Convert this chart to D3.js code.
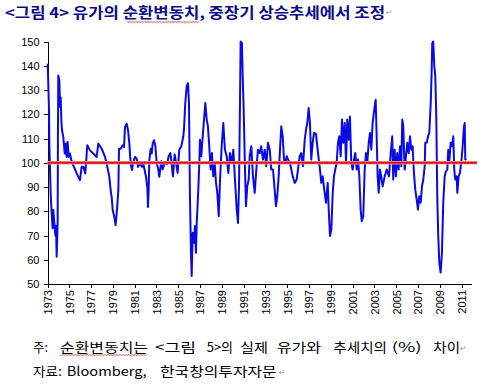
<!DOCTYPE html>
<html>
<head>
<meta charset="utf-8">
<script src="https://cdn.jsdelivr.net/npm/d3@7"></script>
<style>
  body { margin: 0; background: #fff; }
  svg { display: block; }
  .axis path, .axis line { stroke: #000; shape-rendering: crispEdges; }
  .axis text { font-family: "Liberation Sans", Arial, sans-serif; font-size: 11px; fill: #000; }
</style>
</head>
<body>
<div id="chart"></div>
<script>
// ========================================
// DATA
// ========================================

const years = [
    1973.02, 1973.14, 1973.17, 1973.23, 1973.29, 1973.38, 1973.47, 1973.53, 1973.63, 1973.72,
    1973.78, 1973.84, 1973.93, 1973.96, 1973.99, 1974.09, 1974.15, 1974.21, 1974.27, 1974.33,
    1974.45, 1974.58, 1974.67, 1974.76, 1974.85, 1974.94, 1975.06, 1975.22, 1975.43, 1975.68,
    1975.98, 1976.13, 1976.29, 1976.47, 1976.65, 1976.90, 1977.20, 1977.51, 1977.66, 1977.97,
    1978.28, 1978.49, 1978.67, 1978.83, 1978.89, 1978.98, 1979.13, 1979.25, 1979.35, 1979.44,
    1979.50, 1979.56, 1979.71, 1979.90, 1980.02, 1980.11, 1980.26, 1980.39, 1980.51, 1980.63,
    1980.75, 1980.87, 1981.03, 1981.18, 1981.30, 1981.49, 1981.67, 1981.79, 1981.91, 1982.04,
    1982.16, 1982.22, 1982.28, 1982.34, 1982.47, 1982.56, 1982.65, 1982.77, 1982.89, 1983.02,
    1983.14, 1983.26, 1983.44, 1983.57, 1983.75, 1983.96, 1984.12, 1984.27, 1984.36, 1984.51,
    1984.67, 1984.79, 1984.94, 1985.09, 1985.28, 1985.46, 1985.52, 1985.64, 1985.77, 1985.89,
    1985.98, 1986.07, 1986.17, 1986.23, 1986.32, 1986.44, 1986.53, 1986.62, 1986.69, 1986.81,
    1986.93, 1986.99, 1987.11, 1987.24, 1987.36, 1987.48, 1987.61, 1987.72, 1987.84, 1987.97,
    1988.09, 1988.21, 1988.34, 1988.46, 1988.58, 1988.71, 1988.83, 1988.98, 1989.13, 1989.28,
    1989.44, 1989.59, 1989.74, 1989.90, 1990.05, 1990.20, 1990.36, 1990.48, 1990.57, 1990.66,
    1990.72, 1990.84, 1990.91, 1991.00, 1991.12, 1991.21, 1991.33, 1991.46, 1991.55, 1991.70,
    1991.85, 1992.01, 1992.16, 1992.31, 1992.47, 1992.61, 1992.77, 1992.93, 1993.07, 1993.23,
    1993.39, 1993.53, 1993.69, 1993.84, 1993.96, 1994.08, 1994.21, 1994.33, 1994.45, 1994.58,
    1994.70, 1994.82, 1994.95, 1995.06, 1995.25, 1995.37, 1995.50, 1995.68, 1995.86, 1995.98,
    1996.14, 1996.28, 1996.44, 1996.60, 1996.72, 1996.84, 1996.96, 1997.08, 1997.20, 1997.33,
    1997.45, 1997.63, 1997.82, 1998.00, 1998.12, 1998.25, 1998.39, 1998.55, 1998.71, 1998.80,
    1998.92, 1999.04, 1999.17, 1999.28, 1999.40, 1999.53, 1999.65, 1999.77, 1999.90, 2000.02,
    2000.14, 2000.27, 2000.39, 2000.50, 2000.63, 2000.75, 2000.87, 2001.00, 2001.12, 2001.24,
    2001.37, 2001.49, 2001.61, 2001.73, 2001.83, 2001.97, 2002.10, 2002.22, 2002.34, 2002.47,
    2002.59, 2002.71, 2002.83, 2002.98, 2003.11, 2003.20, 2003.29, 2003.39, 2003.50, 2003.62,
    2003.75, 2003.94, 2004.12, 2004.33, 2004.49, 2004.63, 2004.72, 2004.85, 2004.97, 2005.09,
    2005.22, 2005.34, 2005.46, 2005.55, 2005.64, 2005.77, 2005.89, 2006.01, 2006.14, 2006.26,
    2006.38, 2006.50, 2006.62, 2006.74, 2006.87, 2006.99, 2007.11, 2007.24, 2007.36, 2007.48,
    2007.61, 2007.66, 2007.79, 2007.91, 2008.03, 2008.16, 2008.25, 2008.30, 2008.39, 2008.49,
    2008.58, 2008.67, 2008.76, 2008.85, 2008.95, 2009.07, 2009.19, 2009.31, 2009.44, 2009.56,
    2009.68, 2009.77, 2009.86, 2009.99, 2010.11, 2010.23, 2010.32, 2010.41, 2010.54, 2010.60,
    2010.72, 2010.84, 2010.96, 2011.09, 2011.21, 2011.28, 2011.33, 2011.42
];

const cycleValues = [
    140.8, 121.6, 107.4, 97.0, 87.5, 79.2, 73.0, 80.5, 75.0, 70.0,
    74.0, 61.2, 75.0, 113.4, 136.0, 134.0, 123.0, 127.0, 117.5, 113.4,
    110.6, 103.8, 107.9, 102.4, 108.6, 102.4, 103.8, 100.3, 98.3, 95.6,
    92.8, 98.3, 98.3, 95.6, 107.2, 105.1, 103.8, 102.4, 107.9, 105.8,
    102.4, 98.3, 94.2, 87.4, 85.9, 80.5, 77.7, 74.3, 79.2, 84.6,
    88.7, 105.8, 105.8, 107.2, 106.5, 114.7, 116.1, 113.4, 107.9, 99.7,
    97.0, 100.3, 102.4, 101.7, 98.3, 99.7, 98.3, 99.7, 97.0, 94.2,
    89.5, 81.8, 88.7, 101.0, 105.8, 103.8, 107.9, 109.3, 107.2, 99.7,
    97.9, 94.2, 100.6, 97.3, 100.0, 99.4, 102.7, 104.0, 101.0, 94.4,
    103.4, 100.0, 95.8, 105.4, 106.8, 110.9, 113.7, 124.6, 131.5, 132.8,
    124.6, 86.2, 61.5, 53.3, 71.1, 67.0, 73.9, 62.9, 75.2, 86.2,
    99.9, 109.5, 102.7, 110.9, 117.8, 124.6, 117.8, 115.0, 106.8, 97.2,
    104.0, 94.4, 99.9, 91.7, 87.6, 78.0, 93.1, 106.8, 116.4, 105.4,
    102.7, 95.8, 104.0, 99.9, 105.4, 93.1, 80.7, 75.2, 90.3, 124.6,
    150.0, 149.3, 135.6, 121.9, 97.2, 82.1, 90.3, 93.1, 102.7, 106.8,
    94.4, 87.6, 97.2, 105.4, 104.0, 106.8, 101.3, 105.4, 98.6, 108.2,
    105.4, 97.2, 97.2, 89.0, 82.1, 86.2, 94.4, 105.4, 115.0, 110.9,
    101.3, 99.9, 102.7, 101.3, 99.9, 97.2, 94.4, 91.7, 93.1, 97.2,
    102.7, 104.0, 98.6, 109.5, 113.7, 116.4, 122.6, 116.4, 101.3, 108.2,
    112.3, 112.0, 104.0, 97.2, 91.7, 94.4, 89.0, 83.5, 91.7, 80.7,
    69.8, 72.5, 87.6, 94.4, 97.2, 99.9, 108.2, 110.9, 102.7, 117.8,
    108.2, 116.4, 99.9, 117.8, 109.5, 119.1, 99.9, 97.2, 101.3, 104.0,
    97.2, 101.3, 94.4, 80.7, 75.9, 78.0, 97.2, 104.0, 99.9, 108.2,
    112.3, 105.4, 116.4, 121.9, 126.0, 110.9, 94.4, 87.6, 97.2, 94.4,
    90.3, 94.4, 97.2, 94.4, 104.0, 110.9, 93.1, 105.4, 94.4, 104.0,
    97.2, 106.8, 98.6, 117.8, 115.0, 97.2, 102.7, 108.2, 104.0, 110.9,
    105.4, 106.8, 95.8, 89.0, 84.9, 80.7, 86.2, 83.5, 90.3, 93.1,
    98.6, 108.2, 108.2, 110.9, 112.3, 124.6, 138.3, 149.3, 150.0, 139.7,
    135.6, 119.1, 86.2, 69.8, 58.8, 54.7, 62.9, 83.5, 94.4, 96.5,
    97.2, 105.4, 99.9, 108.2, 106.8, 110.9, 97.2, 93.1, 94.4, 87.6,
    94.4, 95.8, 99.9, 106.8, 115.0, 116.4, 101.3, 101.6
];

const yTicks = [50, 60, 70, 80, 90, 100, 110, 120, 130, 140, 150];
const xTicks = d3.range(1973, 2012, 2);
const baseline = 100;

const titleText = "<그림 4> 유가의 순환변동치, 중장기 상승추세에서 조정";
const noteWords = ["주:", "순환변동치는", "<그림", "5>의", "실제", "유가와", "추세치의", "(%)", "차이"];
const sourceWords = ["자료:", "Bloomberg,", "한국창의투자자문"];

// ========================================
// CHART
// ========================================

const width = 484, height = 385;
const plot = { left: 47.5, right: 471.7, top: 41.5, bottom: 284 };

const svg = d3.select("#chart").append("svg")
    .attr("width", width)
    .attr("height", height);

const x = d3.scaleLinear()
    .domain([1973, 2011.92])
    .range([plot.left, plot.right]);

const y = d3.scaleLinear()
    .domain([50, 150])
    .range([plot.bottom, plot.top]);

// axes
svg.append("g")
    .attr("class", "axis")
    .attr("transform", `translate(${plot.left},0)`)
    .call(d3.axisLeft(y).tickValues(yTicks).tickSize(4).tickSizeOuter(0).tickPadding(4));

const xAxis = svg.append("g")
    .attr("class", "axis")
    .attr("transform", `translate(0,${plot.bottom})`)
    .call(d3.axisBottom(x).tickValues(xTicks).tickFormat(d3.format("d")).tickSize(4).tickSizeOuter(0));

xAxis.selectAll("text")
    .attr("transform", "rotate(-90)")
    .attr("text-anchor", "end")
    .attr("x", -6)
    .attr("y", 0)
    .attr("dy", "0.35em");

// series
const series = years.map((yr, i) => ({ year: yr, value: cycleValues[i] }));

const line = d3.line()
    .x(d => x(d.year))
    .y(d => y(Math.min(150, d.value)));

svg.append("path")
    .datum(series)
    .attr("fill", "none")
    .attr("stroke", "#0a0ae6")
    .attr("stroke-width", 2)
    .attr("stroke-linejoin", "round")
    .attr("d", line);

// 100 reference line
svg.append("line")
    .attr("x1", plot.left)
    .attr("x2", 477)
    .attr("y1", y(baseline))
    .attr("y2", y(baseline))
    .attr("stroke", "#f4a0a0")
    .attr("stroke-width", 3.5);

svg.append("line")
    .attr("x1", plot.left)
    .attr("x2", 477)
    .attr("y1", y(baseline))
    .attr("y2", y(baseline))
    .attr("stroke", "#dd1010")
    .attr("stroke-width", 2);

// ========================================
// TEXTS
// ========================================

const kr = '"Noto Sans CJK KR", "Noto Sans", sans-serif';

svg.append("text")
    .attr("x", 5)
    .attr("y", 18)
    .attr("font-family", kr)
    .attr("font-size", 14.5)
    .attr("font-weight", "bold")
    .attr("fill", "#0b0b86")
    .attr("textLength", 380)
    .attr("lengthAdjust", "spacingAndGlyphs")
    .text(titleText);

// footnote words sit where the justified paragraph put them: [start, end]
const noteSpan = [[33, 48], [60, 148], [155, 196], [206.7, 233], [240, 268], [276.7, 321], [333.3, 387], [391.7, 421.7], [433.3, 460]];
const sourceSpan = [[33, 61.7], [66.7, 146.7], [160, 276.7]];

function wordLine(words, spans, yy) {
    words.forEach((w, i) => {
        svg.append("text")
            .attr("x", spans[i][0])
            .attr("y", yy)
            .attr("font-family", kr)
            .attr("font-size", 13)
            .attr("fill", "#000")
            .attr("textLength", spans[i][1] - spans[i][0])
            .attr("lengthAdjust", "spacingAndGlyphs")
            .text(w);
    });
}
wordLine(noteWords, noteSpan, 352);
wordLine(sourceWords, sourceSpan, 376);

// paragraph marks, like the word processor shows them
[[386, 15], [460, 351], [279, 375]].forEach(p => {
    svg.append("text")
        .attr("x", p[0])
        .attr("y", p[1])
        .attr("font-family", "DejaVu Sans, sans-serif")
        .attr("font-size", 8)
        .attr("fill", "#999")
        .text("↵");
});

// spell-check squiggles
function squiggle(x0, x1, yy) {
    const pts = [];
    for (let xx = x0, k = 0; xx <= x1; xx += 1.5, k++) pts.push([xx, yy + (k % 2 ? 1.2 : 0)]);
    svg.append("path")
        .attr("d", d3.line()(pts))
        .attr("fill", "none")
        .attr("stroke", "#e03030")
        .attr("stroke-width", 0.8);
}
squiggle(127, 200, 21.5);
squiggle(60, 148, 354.5);
</script>
</body>
</html>
